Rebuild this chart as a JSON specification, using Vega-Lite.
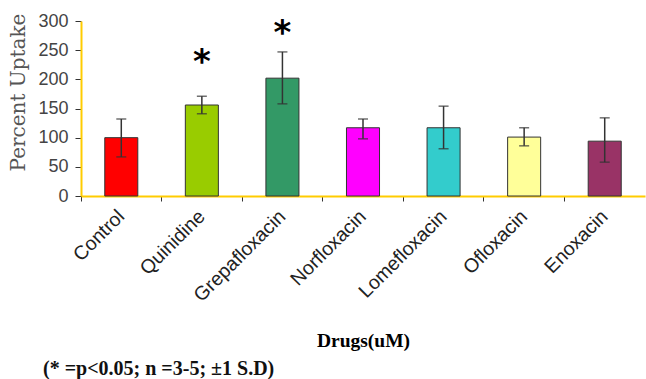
{
  "$schema": "https://vega.github.io/schema/vega-lite/v6.json",
  "width": 564,
  "height": 175,
  "autosize": {"type": "none"},
  "padding": {"left": 81, "top": 21, "right": 1, "bottom": 183},
  "background": "white",
  "title": {
    "text": "(* =p<0.05; n =3-5; ±1 S.D)",
    "orient": "bottom",
    "anchor": "start",
    "frame": "group",
    "dx": -38,
    "offset": 9,
    "font": "Liberation Serif",
    "fontSize": 20,
    "fontWeight": "bold",
    "color": "#111"
  },
  "config": {
    "view": {"stroke": null},
    "axisY": {
      "labelOverlap": false,
      "grid": false,
      "domainColor": "#ffcc00",
      "domainWidth": 2,
      "tickColor": "#333",
      "tickSize": 6,
      "labelFont": "Liberation Sans",
      "labelFontSize": 18,
      "labelColor": "#444",
      "labelPadding": 7,
      "titleFont": "DejaVu Serif",
      "titleFontSize": 20,
      "titleFontWeight": "normal",
      "titleColor": "#555",
      "titleX": -63,
      "titleY": 71,
      "titleBaseline": "middle"
    }
  },
  "datasets": {
    "bars": [
      {"drug": "Control", "value": 100, "low": 67, "high": 132, "color": "#ff0000"},
      {"drug": "Quinidine", "value": 156, "low": 141, "high": 171, "color": "#99cc00"},
      {"drug": "Grepafloxacin", "value": 202, "low": 158, "high": 247, "color": "#339966"},
      {"drug": "Norfloxacin", "value": 117, "low": 98, "high": 132, "color": "#ff00ff"},
      {"drug": "Lomefloxacin", "value": 117, "low": 81, "high": 154, "color": "#33cccc"},
      {"drug": "Ofloxacin", "value": 101, "low": 86, "high": 117, "color": "#ffff99"},
      {"drug": "Enoxacin", "value": 94, "low": 58, "high": 134, "color": "#993366"}
    ],
    "stars": [
      {"drug": "Quinidine", "y": 228, "label": "*"},
      {"drug": "Grepafloxacin", "y": 278, "label": "*"}
    ]
  },
  "encoding": {
    "x": {
      "field": "drug",
      "type": "nominal",
      "sort": ["Control", "Quinidine", "Grepafloxacin", "Norfloxacin", "Lomefloxacin", "Ofloxacin", "Enoxacin"],
      "scale": {"paddingInner": 0, "paddingOuter": 0},
      "axis": {
        "domainColor": "#ffcc00",
        "domainWidth": 2,
        "tickColor": "#333",
        "tickSize": 5,
        "tickWidth": 1,
        "bandPosition": 0,
        "labelAngle": -45,
        "labelAlign": "right",
        "labelBaseline": "middle",
        "labelFont": "Liberation Sans",
        "labelFontSize": 19.5,
        "labelColor": "#222",
        "labelPadding": 12,
        "title": "Drugs(uM)",
        "titleFont": "Liberation Serif",
        "titleFontSize": 19.5,
        "titleFontWeight": "bold",
        "titleColor": "#000",
        "titleY": 144,
        "titleBaseline": "middle"
      }
    }
  },
  "layer": [
    {
      "data": {"name": "bars"},
      "mark": {"type": "bar", "width": {"band": 0.41}, "stroke": "#333", "strokeWidth": 1},
      "encoding": {
        "y": {
          "field": "value",
          "type": "quantitative",
          "scale": {"domain": [0, 300], "nice": false},
          "axis": {"title": "Percent Uptake", "values": [0, 50, 100, 150, 200, 250, 300], "tickCount": 7}
        },
        "color": {"field": "color", "type": "nominal", "scale": null, "legend": null}
      }
    },
    {
      "data": {"name": "bars"},
      "mark": {"type": "rule", "color": "#333", "strokeWidth": 1.5},
      "encoding": {
        "y": {"field": "low", "type": "quantitative", "axis": {"title": "Percent Uptake", "values": [0, 50, 100, 150, 200, 250, 300], "tickCount": 7}},
        "y2": {"field": "high"}
      }
    },
    {
      "data": {"name": "bars"},
      "mark": {"type": "tick", "color": "#333", "size": 10, "thickness": 1.5},
      "encoding": {"y": {"field": "high", "type": "quantitative", "axis": {"title": "Percent Uptake", "values": [0, 50, 100, 150, 200, 250, 300], "tickCount": 7}}}
    },
    {
      "data": {"name": "bars"},
      "mark": {"type": "tick", "color": "#333", "size": 10, "thickness": 1.5},
      "encoding": {"y": {"field": "low", "type": "quantitative", "axis": {"title": "Percent Uptake", "values": [0, 50, 100, 150, 200, 250, 300], "tickCount": 7}}}
    },
    {
      "data": {"name": "stars"},
      "mark": {"type": "text", "font": "DejaVu Sans", "fontSize": 34, "fontWeight": "bold", "color": "#000", "baseline": "middle"},
      "encoding": {
        "y": {"field": "y", "type": "quantitative", "axis": {"title": "Percent Uptake", "values": [0, 50, 100, 150, 200, 250, 300], "tickCount": 7}},
        "text": {"field": "label"}
      }
    }
  ]
}
